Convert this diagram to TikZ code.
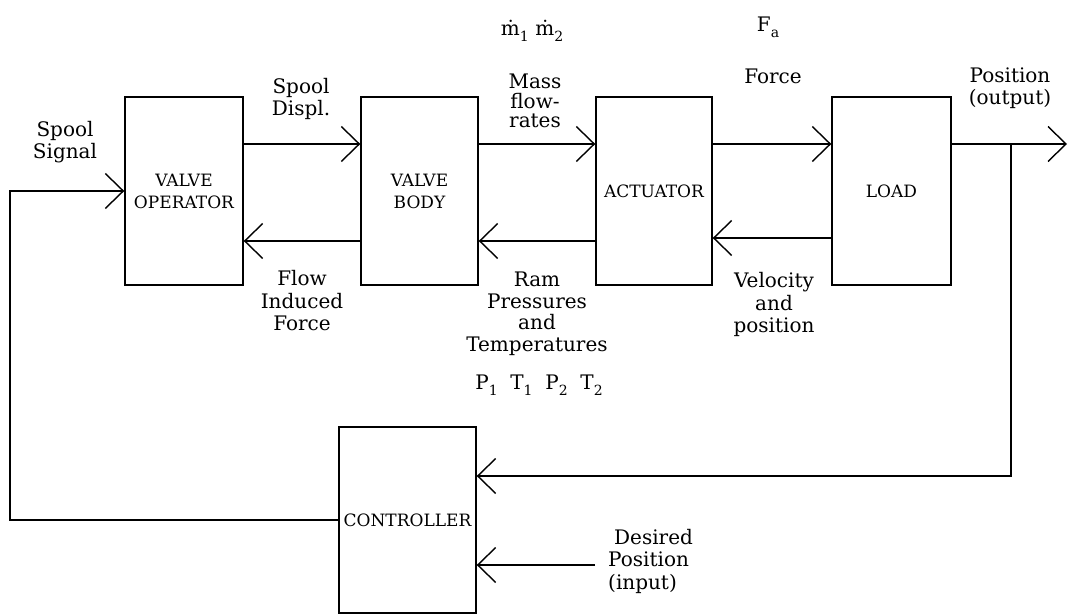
\documentclass[tikz,border=0pt]{standalone}
\usepackage{fontspec}
\setmainfont{DejaVu Serif}
\usetikzlibrary{arrows.meta}
\newcommand{\sbs}[1]{\raisebox{-6pt}{\fontsize{14}{14}\selectfont #1}}
\begin{document}
\begin{tikzpicture}[x=1pt,y=-1pt,
  box/.style={draw, line width=1.4pt, inner sep=0pt, align=center, font=\fontsize{17}{22}\selectfont},
  lbl/.style={inner sep=0pt, align=center, font=\fontsize{20}{22.5}\selectfont},
  arr/.style={line width=1.4pt, -{Straight Barb[length=18pt,width=35pt]}}]
\useasboundingbox (0,0) rectangle (1069,615);

% blocks
\node[box, minimum width=118pt, minimum height=188pt] (vo) at (184,191) {VALVE\\OPERATOR};
\node[box, minimum width=117pt, minimum height=188pt] (vb) at (419.5,191) {VALVE\\BODY};
\node[box, minimum width=116pt, minimum height=188pt] (ac) at (654,191) {ACTUATOR};
\node[box, minimum width=119pt, minimum height=188pt] (ld) at (891.5,191) {LOAD};
\node[box, minimum width=137pt, minimum height=186pt] (ct) at (407.5,520) {CONTROLLER};

% free ends
\coordinate (out) at (1067,144);
\coordinate (tap) at (1011,144);
\coordinate (lft) at (10,191);
\coordinate (inp) at (595,565);

% forward arrows
\draw[arr] ([yshift=47pt]vo.east) -- ([yshift=47pt]vb.west);
\draw[arr] ([yshift=47pt]vb.east) -- ([yshift=47pt]ac.west);
\draw[arr] ([yshift=47pt]ac.east) -- ([yshift=47pt]ld.west);
\draw[arr] ([yshift=47pt]ld.east) -- (out);

% backward arrows
\draw[arr] ([yshift=-50pt]vb.west) -- ([yshift=-50pt]vo.east);
\draw[arr] ([yshift=-50pt]ac.west) -- ([yshift=-50pt]vb.east);
\draw[arr] ([yshift=-47pt]ld.west) -- ([yshift=-47pt]ac.east);

% loops
\draw[arr] (ct.west) -| (lft) -- (vo.west);
\draw[arr] (tap) |- ([yshift=44pt]ct.east);
\draw[arr] (inp) -- ([yshift=-45pt]ct.east);

% labels
\node[lbl] (l1) at (65,142) {Spool\\Signal};
\node[lbl] (l2) at (301,99) {Spool\\Displ.};
\node[lbl] (l3) at (532,31) {ṁ\sbs{1}\,\,ṁ\sbs{2}};
\node[lbl, font=\fontsize{20}{19.5}\selectfont] (l4) at (535,101) {Mass\\flow-\\rates};
\node[lbl] (l5) at (768,27) {F\sbs{a}};
\node[lbl] (l6) at (773,76) {Force};
\node[lbl] (l7) at (1010,88) {Position\\(output)};
\node[lbl] (l8) at (302,301) {Flow\\Induced\\Force};
\node[lbl, font=\fontsize{20}{21.5}\selectfont] (l9) at (537,314) {Ram\\Pressures\\and\\Temperatures};
\node[lbl] (l10) at (539,385) {P\sbs{1}\ \ T\sbs{1}\ \ P\sbs{2}\ \ T\sbs{2}};
\node[lbl] (l11) at (774,304.5) {Velocity\\and\\position};
\node[lbl, align=left, anchor=north west] (l12) at (608,529) {\hspace{6pt}Desired\\Position\\(input)};
\end{tikzpicture}
\end{document}
